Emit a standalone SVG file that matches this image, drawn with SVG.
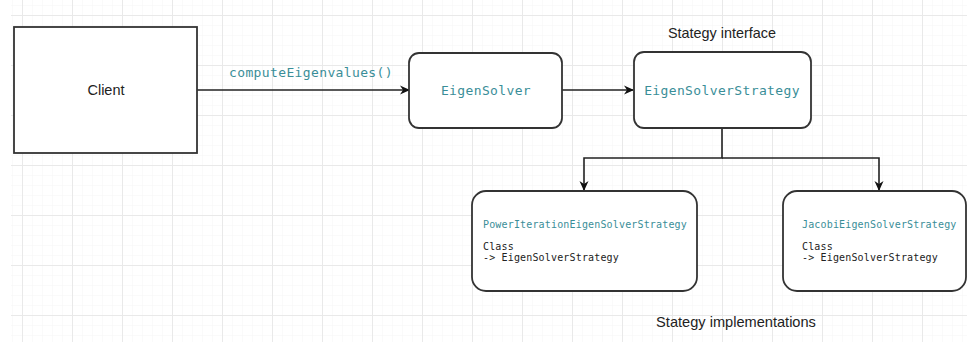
<svg xmlns="http://www.w3.org/2000/svg" width="967" height="342" viewBox="0 0 967 342">
<style>
.box{fill:#fff;stroke:#333;stroke-width:1.8}
.edge{fill:none;stroke:#222;stroke-width:1.6}
.code{font-family:"DejaVu Sans Mono","Liberation Mono",monospace;fill:#3a8e98}
.big{font-size:13px;letter-spacing:0.37px}
.sm{font-size:10px;letter-spacing:0.16px}
.lbl{font-family:"Liberation Sans",Arial,sans-serif;fill:#222}
.small{font-family:"DejaVu Sans Mono","Liberation Mono",monospace;font-size:10px;letter-spacing:0.16px;fill:#222}
</style>
<defs>
<pattern id="minor" patternUnits="userSpaceOnUse" x="2" y="5" width="10" height="10">
<path d="M0,0 H10 M0,0 V10" fill="none" stroke="#f5f5f5" stroke-width="1"/>
</pattern>
<pattern id="major" patternUnits="userSpaceOnUse" x="22" y="15" width="50" height="50">
<path d="M0,0.5 H50 M0.5,0 V50" fill="none" stroke="#e9e9e9" stroke-width="1"/>
</pattern>
<marker id="arr" viewBox="0 0 10 10" refX="9" refY="5" markerWidth="10" markerHeight="10" markerUnits="userSpaceOnUse" orient="auto">
<path d="M0,0.5 L10,5 L0,9.5 L3,5 z" fill="#111"/>
</marker>
</defs>
<rect width="967" height="342" fill="#fff"/>
<rect x="11" y="0" width="956" height="342" fill="url(#minor)"/>
<rect x="11" y="0" width="956" height="342" fill="url(#major)"/>

<g id="edges">
<path class="edge" d="M197,90 H409" marker-end="url(#arr)"/>
<text class="code big" x="311" y="77" text-anchor="middle">computeEigenvalues()</text>
<path class="edge" d="M562,90 H633" marker-end="url(#arr)"/>
<path class="edge" d="M722,128 V158 H584 V190" marker-end="url(#arr)"/>
<path class="edge" d="M722,158 H879 V190" marker-end="url(#arr)"/>
</g>

<g id="client">
<rect class="box" x="14" y="27" width="183" height="126"/>
<text class="lbl" x="106" y="95" font-size="14.5" text-anchor="middle">Client</text>
</g>

<g id="eigensolver">
<rect class="box" x="409" y="53" width="153" height="75" rx="10"/>
<text class="code big" x="486" y="95" text-anchor="middle">EigenSolver</text>
</g>

<g id="strategy">
<text class="lbl" x="722" y="38" font-size="14.4" text-anchor="middle">Stategy interface</text>
<rect class="box" x="634" y="52" width="177" height="76" rx="10"/>
<text class="code big" x="722" y="95" text-anchor="middle">EigenSolverStrategy</text>
</g>

<g id="power">
<rect class="box" x="472" y="191" width="225" height="100" rx="14"/>
<text class="code sm" x="483" y="228">PowerIterationEigenSolverStrategy</text>
<text class="small" x="483" y="250">Class</text>
<text class="small" x="483" y="261">-&gt; EigenSolverStrategy</text>
</g>

<g id="jacobi">
<rect class="box" x="783" y="191" width="183" height="100" rx="14"/>
<text class="code sm" x="802" y="228">JacobiEigenSolverStrategy</text>
<text class="small" x="802" y="250">Class</text>
<text class="small" x="802" y="261">-&gt; EigenSolverStrategy</text>
</g>

<g id="impl-label">
<text class="lbl" x="736" y="327" font-size="14.6" text-anchor="middle">Stategy implementations</text>
</g>
</svg>
